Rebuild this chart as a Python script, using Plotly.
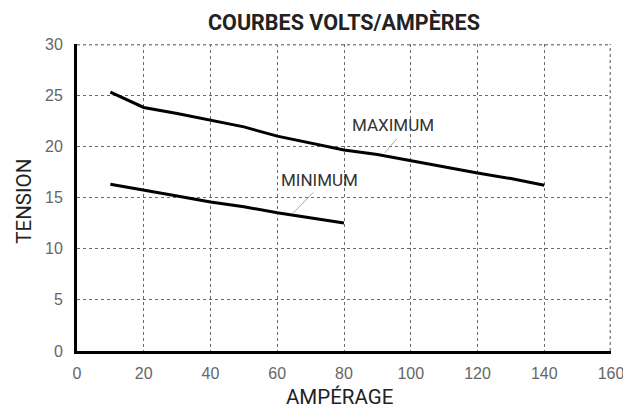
import plotly.graph_objects as go

# Data
amp_max = [10, 20, 30, 40, 50, 60, 70, 80, 90, 100, 110, 120, 130, 140]
volt_max = [25.3, 23.8, 23.2, 22.55, 21.9, 21.0, 20.3, 19.65, 19.2, 18.6, 17.95, 17.4, 16.85, 16.2]

amp_min = [10, 20, 30, 40, 50, 60, 70, 80]
volt_min = [16.3, 15.75, 15.15, 14.57, 14.1, 13.5, 13.0, 12.5]

x_ticks = [0, 20, 40, 60, 80, 100, 120, 140, 160]
y_ticks = [0, 5, 10, 15, 20, 25, 30]

title_text = "COURBES VOLTS/AMPÈRES"
x_title = "AMPÉRAGE"
y_title = "TENSION"
label_max = "MAXIMUM"
label_min = "MINIMUM"

NARROW = "Roboto, Liberation Sans Narrow, DejaVu Sans Condensed, sans-serif"
TICKFONT = "Liberation Sans, Arial, sans-serif"

fig = go.Figure()
fig.add_trace(go.Scatter(x=amp_max, y=volt_max, mode="lines",
                         line=dict(color="black", width=3), showlegend=False,
                         hoverinfo="skip"))
fig.add_trace(go.Scatter(x=amp_min, y=volt_min, mode="lines",
                         line=dict(color="black", width=3), showlegend=False,
                         hoverinfo="skip"))

grid = dict(showgrid=True, gridcolor="#6a6a6a", gridwidth=1.2, griddash="dot",
            zeroline=False, showline=True, linecolor="black", linewidth=3,
            tickfont=dict(family=TICKFONT, size=16, color="#666"),
            ticks="", fixedrange=True, automargin=False)

fig.update_xaxes(range=[0, 160], tickvals=x_ticks, ticktext=[str(v) for v in x_ticks],
                 ticklabelstandoff=6, **grid)
fig.update_yaxes(range=[0, 30], tickvals=y_ticks, ticktext=[str(v) for v in y_ticks],
                 ticklabelstandoff=8, **grid)

# top and right borders (grey dotted)
fig.add_shape(type="line", xref="x", yref="y", x0=0, x1=160, y0=30, y1=30,
              line=dict(color="#8a8a8a", width=3, dash="dot"))
fig.add_shape(type="line", xref="x", yref="y", x0=160, x1=160, y0=0, y1=30,
              line=dict(color="#8a8a8a", width=3, dash="dot"))

# leader lines
fig.add_shape(type="line", xref="x", yref="y", x0=95.8, y0=20.73, x1=92.2, y1=19.36,
              line=dict(color="#aaaaaa", width=1))
fig.add_shape(type="line", xref="x", yref="y", x0=70.8, y0=15.5, x1=64.8, y1=13.48,
              line=dict(color="#aaaaaa", width=1))

fig.add_annotation(x=94.7, y=22.13, xref="x", yref="y", text=label_max, showarrow=False,
                   font=dict(family=NARROW, size=17, color="#333"))
fig.add_annotation(x=72.7, y=16.74, xref="x", yref="y", text=label_min, showarrow=False,
                   font=dict(family=NARROW, size=17, color="#333"))

fig.add_annotation(x=0.4925, y=-0.150, xref="paper", yref="paper", text=x_title,
                   showarrow=False, xanchor="center", yanchor="middle",
                   font=dict(family=NARROW, size=20.5, color="#222"))
fig.add_annotation(x=-0.0993, y=0.4896, xref="paper", yref="paper", text=y_title,
                   showarrow=False, xanchor="center", yanchor="middle", textangle=-90,
                   font=dict(family=NARROW, size=20.5, color="#222"))
fig.add_annotation(x=0.5, y=1.0705, xref="paper", yref="paper", text="<b>" + title_text + "</b>",
                   showarrow=False, xanchor="center", yanchor="middle",
                   font=dict(family=NARROW, size=21.5, color="#222"))

# page body has an 8px margin, so the figure is sized to fill the rest of the window
fig.update_layout(width=623, height=400, margin=dict(l=69, r=20, t=36, b=57),
                  paper_bgcolor="white", plot_bgcolor="white")

fig.write_html("out.html", config={"displayModeBar": False})
